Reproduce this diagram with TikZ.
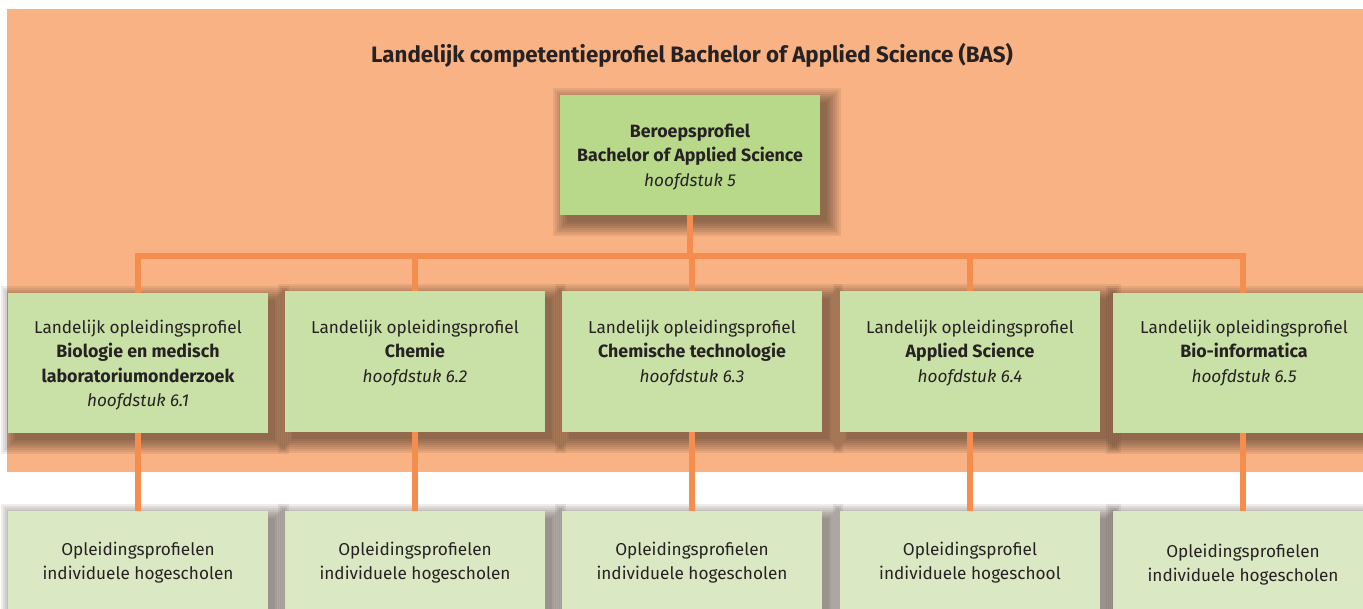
\documentclass[tikz,border=0pt]{standalone}
\usepackage{fontspec}
\setmainfont{Fira Sans}
\pgfdeclarelayer{bg}
\pgfsetlayers{bg,main}
\definecolor{bgorange}{HTML}{F8B283}
\definecolor{lineorange}{HTML}{F48D4D}
\definecolor{topgreen}{HTML}{B8D88A}
\definecolor{midgreen}{HTML}{C9E0A6}
\definecolor{lowgreen}{HTML}{DAE9C3}
\definecolor{ink}{HTML}{262223}
\definecolor{shade}{HTML}{3A2A20}
\newcommand\myb[1]{{\fontsize{17.8}{24.5}\selectfont\bfseries #1}}
\begin{document}
\begin{tikzpicture}[x=1pt,y=-1pt,
  box/.style={rectangle, inner sep=0pt, minimum width=260pt},
  topbox/.style={box, fill=topgreen, minimum height=120pt},
  midbox/.style={box, fill=midgreen, minimum height=141pt},
  lowbox/.style={box, fill=lowgreen, minimum height=140pt},
  lbl/.style={align=center, text=ink, inner sep=0pt, anchor=north, font=\fontsize{17.2}{24.5}\selectfont},
  conn/.style={draw=lineorange, line width=6pt},
  shadowfill/.style={fill=shade, fill opacity=0.085},
  title/.style={text=ink, inner sep=0pt, anchor=base, font=\fontsize{22.3}{26}\selectfont\bfseries}]
\useasboundingbox (0,0) rectangle (1363,609);
\clip (0,0) rectangle (1363,609);
\begin{pgfonlayer}{bg}
\fill[bgorange] (7,9) rectangle (1370,472);
\end{pgfonlayer}
\node[title] (title) at (692,63) {Landelijk competentieprofiel Bachelor of Applied Science (BAS)};
% boxes
\node[topbox] (top) at (690,155) {};
\node[midbox, minimum height=140pt] (m1) at (138,363) {};
\node[midbox] (m2) at (415,361.5) {};
\node[midbox] (m3) at (692,361.5) {};
\node[midbox] (m4) at (970,361.5) {};
\node[midbox, minimum height=140pt] (m5) at (1243,363) {};
\node[lowbox] (b1) at (138,581) {};
\node[lowbox] (b2) at (415,581) {};
\node[lowbox] (b3) at (692,581) {};
\node[lowbox] (b4) at (970,581) {};
\node[lowbox] (b5) at (1243,581) {};
% soft shadows
\begin{pgfonlayer}{bg}
\foreach \n in {top,m1,m2,m3,m4,m5,b1,b2,b3,b4,b5}{
  \foreach \r in {0,2,...,14}{
    \fill[shadowfill] ([shift={({7pt-\r*1pt},{-7pt-\r*1pt})}]\n.south west) rectangle ([shift={({7pt+\r*1pt},{-7pt+\r*1pt})}]\n.north east);
  }
}
\end{pgfonlayer}
% texts
\node[lbl] (tt) at (690,123.5) {\myb{Beroepsprofiel}\\\myb{Bachelor of Applied Science}\\\textit{hoofdstuk 5}};
\node[lbl] (t1) at (138,319.5) {Landelijk opleidingsprofiel\\\myb{Biologie en medisch}\\\myb{laboratoriumonderzoek}\\\textit{hoofdstuk 6.1}};
\node[lbl] (t2) at (415,319.5) {Landelijk opleidingsprofiel\\\myb{Chemie}\\\textit{hoofdstuk 6.2}};
\node[lbl] (t3) at (692,319.5) {Landelijk opleidingsprofiel\\\myb{Chemische technologie}\\\textit{hoofdstuk 6.3}};
\node[lbl] (t4) at (970,319.5) {Landelijk opleidingsprofiel\\\myb{Applied Science}\\\textit{hoofdstuk 6.4}};
\node[lbl] (t5) at (1244,319.5) {Landelijk opleidingsprofiel\\\myb{Bio-informatica}\\\textit{hoofdstuk 6.5}};
\node[lbl] (u1) at (138,541.5) {Opleidingsprofielen\\individuele hogescholen};
\node[lbl] (u2) at (415,541.5) {Opleidingsprofielen\\individuele hogescholen};
\node[lbl] (u3) at (692,541.5) {Opleidingsprofielen\\individuele hogescholen};
\node[lbl] (u4) at (970,541.5) {Opleidingsprofiel\\individuele hogeschool};
\node[lbl] (u5) at (1243,543.5) {Opleidingsprofielen\\individuele hogescholen};
% connectors
\coordinate (bus) at (0,256);
\draw[conn] (top.south) -- (top.south |- bus);
\draw[conn, line cap=rect] (m1.north |- bus) -- (m5.north |- bus);
\foreach \i in {1,...,5}{
  \draw[conn] (m\i.north |- bus) -- (m\i.north);
  \draw[conn] (m\i.south) -- (b\i.north);
}
\end{tikzpicture}
\end{document}
